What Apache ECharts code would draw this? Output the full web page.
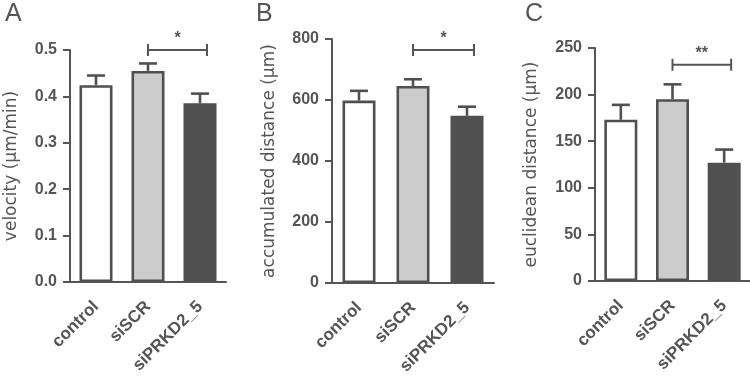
<!DOCTYPE html>
<html>
<head>
<meta charset="utf-8">
<script src="https://cdn.jsdelivr.net/npm/echarts@6/dist/echarts.min.js"></script>
<style>html,body{margin:0;padding:0;background:#fff;}#c{width:750px;height:382px;}</style>
</head>
<body>
<div id="c"></div>
<script>
// ---- data ----
const categories = ['control', 'siSCR', 'siPRKD2_5'];

const velocityMean = [0.424, 0.455, 0.385];
const velocitySem  = [0.021, 0.016, 0.021];

const accumMean = [598, 646, 548];
const accumSem  = [32, 22, 30];

const euclidMean = [173, 195, 127];
const euclidSem  = [16, 16, 14];

const yTicksA = [0, 0.1, 0.2, 0.3, 0.4, 0.5];
const yTicksB = [0, 200, 400, 600, 800];
const yTicksC = [0, 50, 100, 150, 200, 250];

// significance: [from category, to category, level, label]
const sigA = ['siSCR', 'siPRKD2_5', 0.5, '*'];
const sigB = ['siSCR', 'siPRKD2_5', 764, '*'];
const sigC = ['siSCR', 'siPRKD2_5', 232, '**'];

const yNames = ['velocity (\u00b5m/min)', 'accumulated distance (\u00b5m)', 'euclidean distance (\u00b5m)'];
const panelLetters = ['A', 'B', 'C'];

// ---- styling ----
const ink = '#555555';
const fills = ['#ffffff', '#cccccc', '#505050'];
const font = 'Liberation Sans';
const nameFont = 'DejaVu Sans';

const grids = [
  {left: 70, top: 50, width: 156, height: 232},
  {left: 332, top: 39, width: 162, height: 244},
  {left: 595, top: 48, width: 156, height: 233}
];
const nameGaps = [50, 54, 55];
const yTicks = [yTicksA, yTicksB, yTicksC];
const means = [velocityMean, accumMean, euclidMean];
const sems = [velocitySem, accumSem, euclidSem];
const sigs = [sigA, sigB, sigC];

const chart = echarts.init(document.getElementById('c'), null, {renderer: 'canvas'});

const option = {
  backgroundColor: '#ffffff',
  animation: false,
  title: panelLetters.map((t, i) => ({
    text: t,
    left: [0, 251, 520][i],
    top: -3,
    textStyle: {fontFamily: font, fontSize: 25, fontWeight: 'normal', color: ink}
  })),
  grid: grids.map(g => Object.assign({containLabel: false}, g)),
  xAxis: grids.map((g, i) => ({
    type: 'category',
    gridIndex: i,
    data: categories,
    axisLine: {lineStyle: {color: ink, width: 2}},
    axisTick: {alignWithLabel: true, length: 6, lineStyle: {color: ink, width: 2}},
    axisLabel: {rotate: 45, margin: 22, color: ink, fontFamily: font, fontWeight: 'bold', fontSize: 17, interval: 0}
  })),
  yAxis: grids.map((g, i) => {
    const t = yTicks[i];
    return {
      type: 'value',
      gridIndex: i,
      min: t[0],
      max: t[t.length - 1],
      interval: t[1] - t[0],
      name: yNames[i],
      nameLocation: 'middle',
      nameGap: nameGaps[i],
      nameTextStyle: {fontFamily: nameFont, fontSize: 17, color: ink},
      axisLine: {show: true, lineStyle: {color: ink, width: 2}},
      axisTick: {show: true, length: 7, lineStyle: {color: ink, width: 2}},
      splitLine: {show: false},
      axisLabel: {
        margin: 13, color: ink, fontFamily: font, fontWeight: 'bold', fontSize: 16,
        formatter: i === 0 ? (v => v.toFixed(1)) : (v => String(v))
      }
    };
  }),
  series: []
};

grids.forEach((g, i) => {
  // bars
  option.series.push({
    type: 'bar',
    xAxisIndex: i, yAxisIndex: i,
    barWidth: 33,
    z: 3,
    data: means[i].map((v, k) => ({
      value: v,
      itemStyle: {color: fills[k], borderColor: '#505050', borderWidth: 2.6}
    }))
  });
  // error bars (mean + SEM)
  option.series.push({
    type: 'custom',
    xAxisIndex: i, yAxisIndex: i,
    z: 2,
    data: means[i].map((v, k) => [k, v, sems[i][k]]),
    encode: {x: 0, y: 1},
    renderItem: function (params, api) {
      const k = api.value(0), v = api.value(1), e = api.value(2);
      const p0 = api.coord([k, v]);
      const p1 = api.coord([k, v + e]);
      const lw = 2.6, cap = 9;
      return {
        type: 'group',
        children: [
          {type: 'line', shape: {x1: p0[0], y1: p0[1], x2: p1[0], y2: p1[1]}, style: {stroke: '#505050', lineWidth: lw}},
          {type: 'line', shape: {x1: p1[0] - cap, y1: p1[1], x2: p1[0] + cap, y2: p1[1]}, style: {stroke: '#505050', lineWidth: lw}}
        ]
      };
    }
  });
  // significance bracket
  const s = sigs[i];
  option.series.push({
    type: 'custom',
    xAxisIndex: i, yAxisIndex: i,
    z: 4,
    clip: false,
    data: [[categories.indexOf(s[0]), categories.indexOf(s[1]), s[2]]],
    encode: {x: 0, y: 2},
    renderItem: function (params, api) {
      const a = api.coord([api.value(0), api.value(2)]);
      const b = api.coord([api.value(1), api.value(2)]);
      const ext = 7;
      const x1 = a[0], x2 = b[0] + ext, y = a[1];
      return {
        type: 'group',
        children: [
          {type: 'line', shape: {x1: x1, y1: y, x2: x2, y2: y}, style: {stroke: ink, lineWidth: 2}},
          {type: 'line', shape: {x1: x1, y1: y - 6, x2: x1, y2: y + 6}, style: {stroke: ink, lineWidth: 2}},
          {type: 'line', shape: {x1: x2, y1: y - 6, x2: x2, y2: y + 6}, style: {stroke: ink, lineWidth: 2}},
          {type: 'text', style: {text: s[3], x: (x1 + x2) / 2, y: y - 3, textAlign: 'center', textVerticalAlign: 'bottom',
            fill: ink, font: 'bold 16px "Liberation Sans"'}}
        ]
      };
    }
  });
});

chart.setOption(option);
</script>
</body>
</html>
